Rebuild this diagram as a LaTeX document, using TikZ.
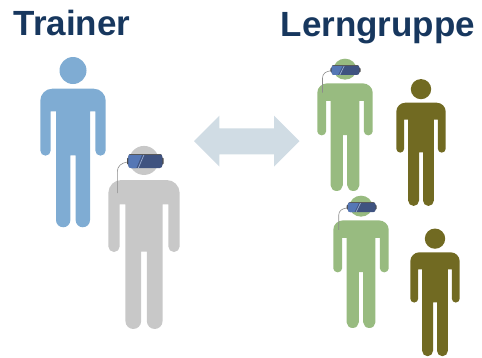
\documentclass[tikz,border=0pt]{standalone}
\usepackage{fontspec}
\setmainfont{Liberation Sans}
\definecolor{navy}{HTML}{17375E}
\definecolor{bluep}{HTML}{7FACD3}
\definecolor{grayp}{HTML}{C8C8C8}
\definecolor{greenp}{HTML}{98BB80}
\definecolor{olivep}{HTML}{716A22}
\definecolor{arrowc}{HTML}{D0DCE4}
\definecolor{vrdark}{HTML}{3F5380}
\definecolor{vrlight}{HTML}{5577B5}
\tikzset{
  title/.style={font=\bfseries\fontsize{35}{38}\selectfont, text=navy, inner sep=0pt, anchor=base west},
  personshape/.pic={
    \fill[pic actions] (0,-18.2) circle (13.5);
    \fill[pic actions]
      (-32.7,12) arc[start angle=180,end angle=270,radius=12] -- (20.7,0)
      arc[start angle=270,end angle=360,radius=12] -- (32.7,61.8)
      arc[start angle=0,end angle=180,radius=5.2] -- (22.3,22.6) -- (17,22.6)
      -- (17,131.4) arc[start angle=0,end angle=180,radius=7.175] -- (2.65,66.6) -- (-2.65,66.6)
      -- (-2.65,131.4) arc[start angle=0,end angle=180,radius=7.175] -- (-17,22.6) -- (-22.3,22.6)
      -- (-22.3,61.8) arc[start angle=0,end angle=180,radius=5.2] -- cycle;
  },
  headset/.pic={
    \draw[black!45, line width=0.6] (-18,1) .. controls (-24,2) and (-28,5) .. (-28,11) -- (-28,32);
    \fill[black!70, rounded corners=1] (-18.3,-3.5) rectangle (18.3,3.5);
    \fill[vrdark, rounded corners=2.5] (-17,-7) rectangle (17,7);
    \begin{scope}
      \clip[rounded corners=2.5] (-17,-7) rectangle (17,7);
      \fill[vrlight] (-17,-7) -- (-3,-7) -- (-9,7) -- (-17,7) -- cycle;
      \draw[white!40!vrlight, line width=0.7] (-1,-7) -- (-7,7);
      \fill[black!65] (-17,-7) rectangle (17,-5.6);
    \end{scope}
  }
}
\begin{document}
\begin{tikzpicture}[x=1pt,y=-1pt]
\useasboundingbox (0,0) rectangle (482,357);
\node[title] (trainer) at (13.5,35.7) {Trainer};
\node[title] (lern) at (280.5,36) {Lerngruppe};
% arrow
\fill[arrowc] (194,141) -- (219.3,115.7) -- (219.3,128.3) -- (274,128.3) -- (274,115.7) -- (299.5,141)
  -- (274,166.5) -- (274,154.3) -- (219.3,154.3) -- (219.3,166.5) -- cycle;
% people
\pic[fill=bluep] (p1) at (73,88.7) {personshape};
\pic[fill=grayp, xscale=1.09, yscale=1.075] (p2) at (144,180) {personshape};
\pic[fill=greenp, xscale=.847, yscale=.777] (p3) at (345,83.3) {personshape};
\pic[fill=olivep, xscale=.755, yscale=.745] (p4) at (421,102.7) {personshape};
\pic[fill=greenp, xscale=.847, yscale=.777] (p5) at (361,220.3) {personshape};
\pic[fill=olivep, xscale=.755, yscale=.75] (p6) at (435,252.3) {personshape};
% headsets
\pic (h1) at (145.3,161) {headset};
\pic[xscale=.82, yscale=.71] (h2) at (345.5,70) {headset};
\pic[xscale=.82, yscale=.71] (h3) at (361.7,207.2) {headset};
\end{tikzpicture}
\end{document}
